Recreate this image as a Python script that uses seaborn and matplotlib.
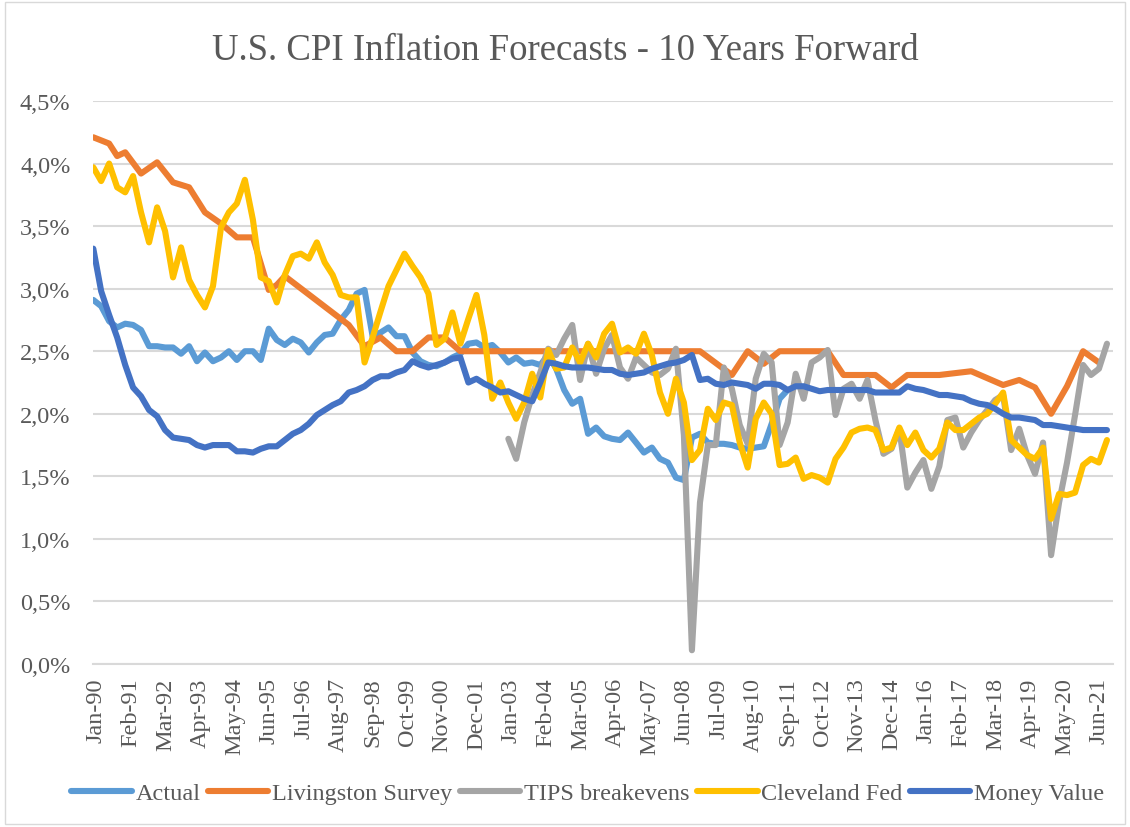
import pandas as pd
import seaborn as sns
import matplotlib.pyplot as plt
from matplotlib.lines import Line2D
from matplotlib.patches import Rectangle
from matplotlib.transforms import ScaledTranslation

# Series names and Excel-like colours
series_names = ['Actual', 'Livingston Survey', 'TIPS breakevens', 'Cleveland Fed', 'Money Value']
series_colors = ['#5B9BD5', '#ED7D31', '#A5A5A5', '#FFC000', '#4472C4']

# Quarterly values (%), starting Jan-90
actual = [2.91, 2.86, 2.74, 2.69, 2.72, 2.71, 2.67, 2.54, 2.54, 2.53,
          2.53, 2.48, 2.54, 2.42, 2.49, 2.42, 2.45, 2.50, 2.43, 2.50,
          2.50, 2.43, 2.68, 2.59, 2.55, 2.60, 2.57, 2.49, 2.57, 2.63,
          2.64, 2.75, 2.83, 2.96, 2.99, 2.62, 2.65, 2.69, 2.62, 2.62,
          2.49, 2.42, 2.39, 2.38, 2.41, 2.45, 2.48, 2.56, 2.57, 2.53,
          2.55, 2.49, 2.41, 2.45, 2.40, 2.41, 2.39, 2.47, 2.36, 2.19,
          2.08, 2.12, 1.84, 1.89, 1.82, 1.80, 1.79, 1.85, 1.77, 1.69,
          1.73, 1.64, 1.61, 1.49, 1.47, 1.81, 1.84, 1.77, 1.76, 1.76,
          1.75, 1.73, 1.72, 1.73, 1.74, 1.92, 2.12, 2.19]

cleveland = [3.97, 3.86, 4.00, 3.81, 3.77, 3.90, 3.61, 3.37, 3.65, 3.46,
             3.09, 3.33, 3.07, 2.95, 2.85, 3.02, 3.49, 3.61, 3.68, 3.87,
             3.55, 3.09, 3.06, 2.89, 3.11, 3.26, 3.28, 3.24, 3.37, 3.21,
             3.11, 2.95, 2.93, 2.93, 2.41, 2.61, 2.82, 3.02, 3.15, 3.28,
             3.18, 3.09, 2.96, 2.55, 2.60, 2.81, 2.56, 2.76, 2.95, 2.63,
             2.12, 2.25, 2.09, 1.96, 2.09, 2.32, 2.13, 2.51, 2.36, 2.37,
             2.53, 2.41, 2.56, 2.45, 2.64, 2.72, 2.49, 2.53, 2.48, 2.64,
             2.47, 2.17, 2.00, 2.28, 2.09, 1.63, 1.71, 2.04, 1.95, 2.09,
             2.07, 1.77, 1.57, 1.96, 2.09, 2.00, 1.59, 1.60, 1.65, 1.48,
             1.51, 1.49, 1.45, 1.64, 1.73, 1.85, 1.88, 1.89, 1.87, 1.71,
             1.73, 1.89, 1.75, 1.85, 1.71, 1.65, 1.72, 1.93, 1.87, 1.87,
             1.92, 1.97, 2.00, 2.08, 2.17, 1.79, 1.73, 1.67, 1.64, 1.73,
             1.16, 1.36, 1.35, 1.37, 1.59, 1.64, 1.61, 1.79]

# TIPS breakevens start in Jan-03
tips = [1.80, 1.64, 1.93, 2.15, 2.33, 2.52, 2.47, 2.60, 2.71, 2.27,
        2.56, 2.32, 2.52, 2.63, 2.37, 2.28, 2.45, 2.39, 2.33, 2.31,
        2.36, 2.52, 1.83, 0.11, 1.29, 1.75, 1.75, 2.37, 2.20, 1.91,
        1.76, 2.28, 2.48, 2.41, 1.75, 1.93, 2.32, 2.12, 2.41, 2.45,
        2.51, 1.99, 2.20, 2.24, 2.12, 2.27, 1.95, 1.68, 1.72, 1.88,
        1.41, 1.53, 1.63, 1.40, 1.58, 1.95, 1.97, 1.73, 1.85, 1.95,
        2.03, 2.11, 2.15, 1.71, 1.88, 1.67, 1.52, 1.77, 0.87, 1.29,
        1.61, 1.99, 2.39, 2.31, 2.36, 2.56]

money_value = [3.32, 2.98, 2.79, 2.61, 2.39, 2.21, 2.14, 2.03, 1.98, 1.87,
               1.81, 1.80, 1.79, 1.75, 1.73, 1.75, 1.75, 1.75, 1.70, 1.70,
               1.69, 1.72, 1.74, 1.74, 1.79, 1.84, 1.87, 1.92, 1.99, 2.03,
               2.07, 2.10, 2.17, 2.19, 2.22, 2.27, 2.30, 2.30, 2.33, 2.35,
               2.42, 2.39, 2.37, 2.39, 2.41, 2.44, 2.45, 2.25, 2.28, 2.24,
               2.21, 2.17, 2.18, 2.15, 2.12, 2.10, 2.25, 2.41, 2.40, 2.38,
               2.37, 2.37, 2.37, 2.36, 2.35, 2.35, 2.32, 2.31, 2.32, 2.33,
               2.36, 2.38, 2.40, 2.41, 2.43, 2.47, 2.27, 2.28, 2.24, 2.23,
               2.25, 2.24, 2.23, 2.20, 2.24, 2.24, 2.23, 2.19, 2.22, 2.22,
               2.20, 2.18, 2.19, 2.19, 2.19, 2.19, 2.19, 2.19, 2.17, 2.17,
               2.17, 2.17, 2.22, 2.20, 2.19, 2.17, 2.15, 2.15, 2.14, 2.13,
               2.10, 2.08, 2.07, 2.04, 2.00, 1.97, 1.97, 1.96, 1.95, 1.91,
               1.91, 1.90, 1.89, 1.88, 1.87, 1.87, 1.87, 1.87]

# Livingston Survey (semiannual knots)
livingston_dates = ['1990-01', '1990-07', '1990-10', '1991-01', '1991-07', '1992-01',
                    '1992-07', '1993-01', '1993-07', '1994-01', '1994-07', '1995-01',
                    '1995-07', '1995-10', '1996-01', '1998-01', '1998-07', '1999-01',
                    '1999-07', '2000-01', '2000-07', '2001-01', '2001-07', '2009-01',
                    '2010-01', '2010-07', '2011-01', '2011-07', '2013-01', '2013-07',
                    '2014-07', '2015-01', '2015-07', '2016-07', '2017-07', '2018-07',
                    '2019-01', '2019-07', '2020-01', '2020-07', '2021-01', '2021-07']
livingston = [4.21, 4.16, 4.06, 4.09, 3.92, 4.01,
              3.85, 3.81, 3.61, 3.52, 3.41, 3.41,
              2.99, 3.03, 3.10, 2.71, 2.54, 2.61,
              2.50, 2.50, 2.61, 2.61, 2.50, 2.50,
              2.31, 2.50, 2.40, 2.50, 2.50, 2.31,
              2.31, 2.21, 2.31, 2.31, 2.34, 2.23,
              2.27, 2.21, 2.00, 2.22, 2.50, 2.41]

quarters = pd.date_range('1990-01-01', periods=len(cleveland), freq='QS')

df = pd.concat([
    pd.DataFrame({'date': quarters[:len(actual)], 'value': actual, 'series': 'Actual'}),
    pd.DataFrame({'date': pd.to_datetime(livingston_dates), 'value': livingston, 'series': 'Livingston Survey'}),
    pd.DataFrame({'date': quarters[-len(tips):], 'value': tips, 'series': 'TIPS breakevens'}),
    pd.DataFrame({'date': quarters, 'value': cleveland, 'series': 'Cleveland Fed'}),
    pd.DataFrame({'date': quarters, 'value': money_value, 'series': 'Money Value'}),
], ignore_index=True)
df['value'] = df['value'] / 100

# Estilo
sns.set_style('white')
plt.rcParams['font.family'] = ['Liberation Serif', 'DejaVu Serif']
text_color = '#595959'
grid_color = '#D9D9D9'

fig = plt.figure(figsize=(11.3, 8.28), dpi=100)
ax = fig.add_axes([93.3 / 1130, 1 - 665 / 828, (1113 - 93.3) / 1130, (665 - 102) / 828])

palette = dict(zip(series_names, series_colors))
sns.lineplot(data=df, x='date', y='value', hue='series', hue_order=series_names,
             palette=palette, linewidth=4.4, estimator=None, legend=False, ax=ax,
             solid_capstyle='round', solid_joinstyle='round')

# Ejes
ax.set_ylim(0, 0.045)
ax.set_yticks([i * 0.005 for i in range(10)])
ax.set_yticklabels([f'{i * 0.5:.1f}%'.replace('.', ',') for i in range(10)])
ax.set_xlim(pd.Timestamp('1990-01-01'), pd.Timestamp('2021-12-09'))
tick_dates = pd.date_range('1990-01-01', '2021-06-01', freq='13MS')
ax.set_xticks(tick_dates)
ax.set_xticklabels([d.strftime('%b-%y') for d in tick_dates], rotation=90, va='top', ha='center')
ax.set_xlabel('')
ax.set_ylabel('')
ax.tick_params(axis='y', length=0, pad=16.5, labelsize=17.5, labelcolor=text_color)
ax.tick_params(axis='x', length=0, pad=9.5, labelsize=17.5, labelcolor=text_color)
shift = ScaledTranslation(3 / 100, 0, fig.dpi_scale_trans)
for lbl in ax.get_xticklabels():
    lbl.set_transform(lbl.get_transform() + shift)
ax.grid(axis='y', color=grid_color, linewidth=1.5)
ax.grid(axis='x', visible=False)
ax.set_axisbelow(True)
for side in ['top', 'left', 'right']:
    ax.spines[side].set_visible(False)
ax.spines['bottom'].set_color(grid_color)
ax.spines['bottom'].set_linewidth(1.5)

fig.text(0.5, 1 - 51 / 828, 'U.S. CPI Inflation Forecasts - 10 Years Forward',
         ha='center', va='center', fontsize=26.5, color=text_color)

# Leyenda
handles = [Line2D([0], [0], color=c, linewidth=4.4, solid_capstyle='round') for c in series_colors]
fig.legend(handles, series_names, loc='center', bbox_to_anchor=(0.52, 1 - 794 / 828), ncol=5,
           frameon=False, fontsize=17.5, labelcolor=text_color, handlelength=2.5,
           handletextpad=0.15, columnspacing=0.3)

# Borde del gráfico
fig.patches.append(Rectangle((0.004, 0.004), 0.992, 0.992, transform=fig.transFigure,
                             fill=False, edgecolor=grid_color, linewidth=1))

fig.savefig('out.png', dpi=100)
